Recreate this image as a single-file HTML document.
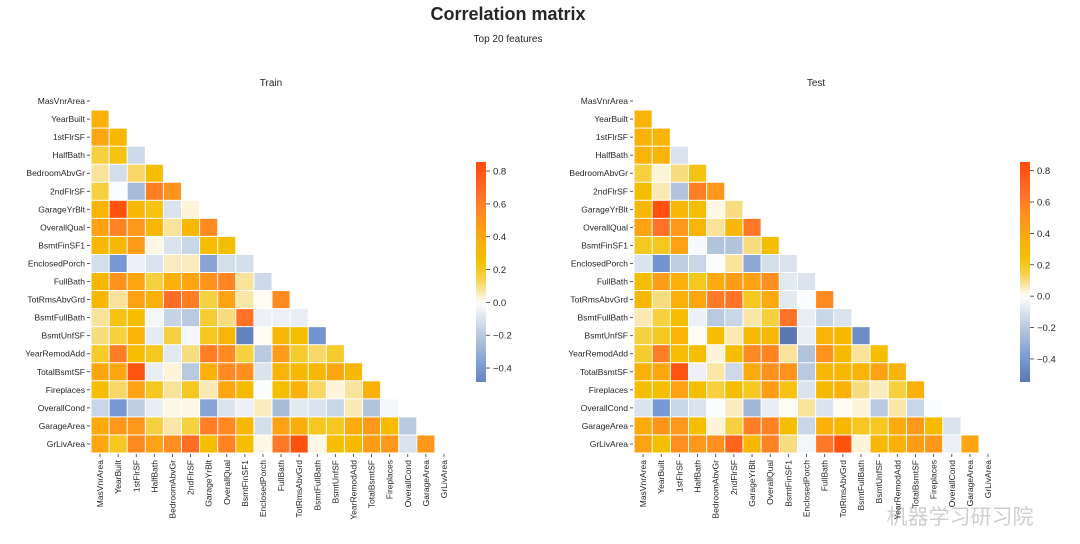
<!DOCTYPE html>
<html><head><meta charset="utf-8">
<style>
html,body{margin:0;padding:0;background:#fff;}
svg{display:block;font-family:"Liberation Sans","Noto Sans CJK SC",sans-serif;}
</style></head>
<body>
<svg id="chart" width="1080" height="544" viewBox="0 0 1080 544">
<text x="508" y="20" text-anchor="middle" font-size="18" font-weight="bold" fill="#262626">Correlation matrix</text>
<text x="508" y="42" text-anchor="middle" font-size="10" fill="#262626">Top 20 features</text>
<text x="960" y="524" text-anchor="middle" font-size="21" fill="#bbb" opacity="0.7">机器学习研习院</text>
</svg>
<script>
const features = ["MasVnrArea","YearBuilt","1stFlrSF","HalfBath","BedroomAbvGr","2ndFlrSF","GarageYrBlt","OverallQual","BsmtFinSF1","EnclosedPorch","FullBath","TotRmsAbvGrd","BsmtFullBath","BsmtUnfSF","YearRemodAdd","TotalBsmtSF","Fireplaces","OverallCond","GarageArea","GrLivArea"];
const trainValues = [
[],
[0.35],
[0.4,0.3],
[0.15,0.22,-0.14],
[0.08,-0.12,0.12,0.25],
[0.15,-0.01,-0.25,0.6,0.5],
[0.32,0.82,0.3,0.22,-0.1,0.03],
[0.42,0.58,0.48,0.3,0.08,0.3,0.55],
[0.3,0.3,0.45,0.02,-0.1,-0.15,0.25,0.25],
[-0.12,-0.4,-0.05,-0.1,0.05,0.05,-0.35,-0.12,-0.12],
[0.3,0.5,0.4,0.15,0.35,0.4,0.5,0.57,0.08,-0.14],
[0.3,0.08,0.42,0.35,0.68,0.6,0.15,0.42,0.07,0.01,0.55],
[0.08,0.22,0.25,-0.03,-0.16,-0.2,0.17,0.1,0.65,-0.05,-0.05,-0.06],
[0.1,0.15,0.32,-0.07,0.15,-0.03,0.2,0.32,-0.5,0.01,0.3,0.25,-0.42],
[0.18,0.6,0.25,0.2,-0.08,0.1,0.6,0.55,0.15,-0.2,0.45,0.18,0.12,0.18],
[0.4,0.4,0.8,-0.06,0.03,-0.2,0.35,0.55,0.52,-0.1,0.33,0.3,0.3,0.4,0.3],
[0.25,0.12,0.42,0.2,0.08,0.2,0.06,0.4,0.28,-0.01,0.25,0.35,0.12,0.03,0.08,0.35],
[-0.15,-0.4,-0.18,-0.06,0.02,0.02,-0.35,-0.1,-0.05,0.05,-0.25,-0.08,-0.1,-0.15,0.06,-0.22,-0.03],
[0.38,0.48,0.48,0.15,0.07,0.15,0.6,0.56,0.3,-0.12,0.42,0.36,0.2,0.2,0.37,0.48,0.27,-0.2],
[0.4,0.2,0.55,0.42,0.52,0.68,0.25,0.58,0.25,0.02,0.62,0.82,0.02,0.25,0.28,0.45,0.47,-0.1,0.48]
];
const testValues = [
[],
[0.33],
[0.35,0.33],
[0.33,0.33,-0.1],
[0.15,0.03,0.1,0.22],
[0.25,0.06,-0.22,0.6,0.48],
[0.3,0.83,0.3,0.25,0.02,0.1],
[0.42,0.65,0.48,0.32,0.08,0.3,0.62],
[0.2,0.2,0.42,-0.02,-0.22,-0.22,0.1,0.25],
[-0.1,-0.42,-0.18,-0.15,-0.01,0.08,-0.33,-0.12,-0.1],
[0.25,0.45,0.35,0.2,0.38,0.45,0.42,0.52,-0.08,-0.1],
[0.3,0.1,0.35,0.4,0.62,0.65,0.2,0.38,-0.08,-0.01,0.55],
[0.06,0.15,0.25,-0.05,-0.2,-0.15,0.07,0.15,0.65,-0.06,-0.15,-0.1],
[0.15,0.2,0.32,0.01,0.25,0.06,0.28,0.3,-0.55,-0.06,0.32,0.3,-0.45],
[0.18,0.6,0.25,0.25,0.03,0.25,0.55,0.57,0.08,-0.22,0.5,0.28,0.08,0.25],
[0.35,0.4,0.8,-0.05,0.07,-0.14,0.38,0.52,0.5,-0.2,0.3,0.3,0.32,0.42,0.33],
[0.25,0.25,0.42,0.25,0.15,0.25,0.2,0.45,0.22,-0.1,0.28,0.35,0.1,0.05,0.15,0.35],
[-0.1,-0.4,-0.15,-0.1,-0.01,0.05,-0.27,-0.06,0.01,0.08,-0.1,0.01,0.03,-0.2,0.07,-0.15,-0.01],
[0.38,0.5,0.48,0.25,0.03,0.15,0.6,0.58,0.25,-0.15,0.35,0.3,0.2,0.2,0.38,0.48,0.28,-0.1],
[0.42,0.25,0.52,0.48,0.52,0.72,0.3,0.58,0.1,-0.03,0.62,0.82,0.03,0.3,0.35,0.45,0.48,-0.05,0.4]
];
const colorbarTicks = [-0.4,-0.2,0.0,0.2,0.4,0.6,0.8];
const trainRange = [-0.485,0.855];
const testRange = [-0.547,0.855];

const stops=[[-0.55,[90,120,176]],[-0.4,[120,152,212]],[-0.25,[168,188,216]],[-0.1,[218,227,238]],[0,[255,255,255]],
[0.05,[251,236,192]],[0.1,[248,220,128]],[0.15,[247,208,64]],[0.25,[245,190,0]],[0.35,[251,176,10]],[0.45,[255,156,24]],
[0.55,[255,138,32]],[0.65,[255,114,40]],[0.86,[255,74,8]]];
function color(v){
  if(v<=stops[0][0])return 'rgb('+stops[0][1]+')';
  for(let i=1;i<stops.length;i++){
    if(v<=stops[i][0]){const a=stops[i-1],b=stops[i];const t=(v-a[0])/(b[0]-a[0]);
      return 'rgb('+a[1].map((c,k)=>Math.round(c+(b[1][k]-c)*t)).join(',')+')';}
  }
  return 'rgb('+stops[stops.length-1][1]+')';
}
const NS='http://www.w3.org/2000/svg';
const svg=document.getElementById('chart');
function mk(tag,attrs,parent){const e=document.createElementNS(NS,tag);for(const k in attrs)e.setAttribute(k,attrs[k]);(parent||svg).appendChild(e);return e;}

function heatmap(values,x0,pitch,title,titleX,cbX,cbTop,cbBot,range,prefix){
  const y0=92, rp=18.05;
  const g=mk('g',{});
  
  
  const t=mk('text',{x:titleX,y:86,'text-anchor':'middle','font-size':10,fill:'#262626'},g);
  t.textContent=title;
  
  
  const xs=i=>x0+i*pitch, ys=i=>y0+i*rp;
  values.forEach((row,r)=>{
    row.forEach((v,c)=>{
      const rect=mk('rect',{x:xs(c)+0.5,y:ys(r)+0.5,width:pitch-1,height:rp-1,fill:color(v)},g);
      
      
    });
  });
  features.forEach((f,i)=>{
    const cy=ys(i)+rp/2;
    mk('line',{x1:x0-4,x2:x0-1,y1:cy,y2:cy,stroke:'#333','stroke-width':0.8},g);
    const yl=mk('text',{x:x0-6,y:cy+3,'text-anchor':'end','font-size':8.5,fill:'#262626'},g);
    yl.textContent=f;
    
    
    const cx=xs(i)+pitch/2, by=y0+20*rp;
    mk('line',{x1:cx,x2:cx,y1:by+1,y2:by+4,stroke:'#333','stroke-width':0.8},g);
    const xl=mk('text',{x:0,y:0,'text-anchor':'end','font-size':8.5,fill:'#262626',transform:'translate('+(cx+3)+','+(by+7)+') rotate(-90)'},g);
    xl.textContent=f;
    
    
  });
  const gid=prefix+'-grad';
  const defs=mk('defs',{});
  const lg=mk('linearGradient',{id:gid,x1:0,y1:1,x2:0,y2:0},defs);
  for(let k=0;k<=40;k++){const v=range[0]+(range[1]-range[0])*k/40;mk('stop',{offset:(k/40),'stop-color':color(v)},lg);}
  const cb=mk('rect',{x:cbX,y:cbTop,width:10,height:cbBot-cbTop,fill:'url(#'+gid+')'},g);
  
  
  const cbY=v=>cbBot-(v-range[0])/(range[1]-range[0])*(cbBot-cbTop);
  colorbarTicks.forEach(v=>{
    if(v<range[0]||v>range[1])return;
    const y=cbY(v);
    mk('line',{x1:cbX+10,x2:cbX+14,y1:y,y2:y,stroke:'#333','stroke-width':0.8},g);
    const tl=mk('text',{x:cbX+17,y:y+3.5,'font-size':9.5,fill:'#262626'},g);
    tl.textContent=(v<0?'\u2212':'')+Math.abs(v).toFixed(1);
    
    
  });
}
heatmap(trainValues,91,18.1,'Train',271,476,162,382,trainRange,'train');
heatmap(testValues,634,18.16,'Test',816,1020,162,382,testRange,'test');
</script>
</body></html>
